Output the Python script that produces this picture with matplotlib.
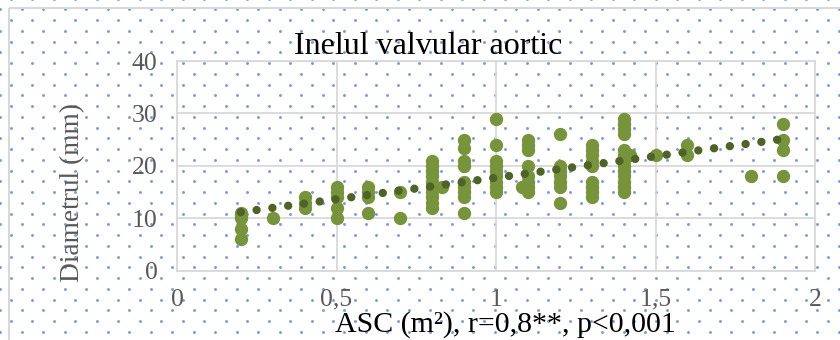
import numpy as np
import matplotlib
matplotlib.use("Agg")
import matplotlib.pyplot as plt
from matplotlib.patches import Rectangle

# ---- data ----
asc = ([0.2]*5 + [0.3] + [0.4]*3 + [0.5]*5 + [0.6]*4 + [0.7]*2 + [0.8]*10 + [0.83]
       + [0.9]*9 + [1.0]*9 + [1.08] + [1.1]*8 + [1.2]*7 + [1.3]*9 + [1.4]*13 + [1.42]
       + [1.5] + [1.6]*2 + [1.8] + [1.9]*4)
diam = ([11, 10.5, 10, 8, 6] + [10] + [14, 13, 12] + [16, 15, 14, 12, 10] + [16, 15, 14, 11]
        + [15, 10] + [21, 20, 19, 18, 17, 16, 15, 14, 13, 12] + [16]
        + [25, 23.5, 21, 20, 17, 16, 15, 14, 11]
        + [29, 24, 21, 20, 19, 18, 17, 16, 15] + [16]
        + [25, 24, 23, 20, 18, 17, 16, 15]
        + [26, 20, 19, 18, 17, 16, 13]
        + [24, 23, 22, 21, 20, 17, 16, 15, 14]
        + [29, 28, 27, 26, 23, 22, 21, 20, 19, 18, 17, 16, 15] + [22]
        + [22] + [24, 22] + [18] + [28, 25, 23, 18])
xticks = [0, 0.5, 1, 1.5, 2]
xtick_labels = ["0", "0,5", "1", "1,5", "2"]
yticks = [0, 10, 20, 30, 40]
ytick_labels = ["0", "10", "20", "30", "40"]
title = "Inelul valvular aortic"
xlabel = "ASC (m²), r=0,8**, p<0,001"
ylabel = "Diametrul (mm)"

W, H = 840, 340
plt.rcParams['font.family'] = ['Liberation Serif', 'DejaVu Serif']
fig = plt.figure(figsize=(W/100, H/100), dpi=100)
fig.patch.set_facecolor('white')

# background pattern axes (pixel coordinates)
bg = fig.add_axes([0, 0, 1, 1], zorder=0)
bg.set_xlim(0, W); bg.set_ylim(H, 0); bg.axis('off')
px, py = [], []
step = 10.75
for k in range(-2, 35):
    yy = 20 + step*k
    x0 = 32.3 if k % 2 == 0 else 21.5
    for m in range(-2, 42):
        px.append(x0 + 21.5*m); py.append(yy)
bg.scatter(px, py, s=4.5, color='#4472C4', alpha=0.7, linewidths=0)
bg.add_patch(Rectangle((9.3, 8.3), 900, 900, fill=False, edgecolor='#D9D9D9', linewidth=1.5))

# main axes
L, R, T, B = 177, 815, 61, 270.7
ax = fig.add_axes([L/W, 1-B/H, (R-L)/W, (B-T)/H], zorder=1)
ax.set_facecolor('none')
ax.set_xlim(0, 2); ax.set_ylim(0, 40)
ax.set_xticks(xticks); ax.set_xticklabels(xtick_labels)
ax.set_yticks(yticks); ax.set_yticklabels(ytick_labels)
ax.tick_params(length=0, labelsize=18.5, labelcolor='#595959')
ax.tick_params(axis='x', pad=13)
ax.tick_params(axis='y', pad=14)
ax.grid(True, color='#D9D9D9', linewidth=1.3)
ax.set_axisbelow(True)
for s in ax.spines.values():
    s.set_color('#D9D9D9'); s.set_linewidth(1.3)

xa = np.array(asc); ya = np.array(diam)
ax.scatter(xa, ya, s=92, color='#77933C', linewidths=0, zorder=3)
b, a = np.polyfit(xa, ya, 1)
xt = np.linspace(xa.min(), xa.max(), 200)
ax.plot(xt, a + b*xt, color='#4F6228', linewidth=6.0, linestyle=(0, (0.01, 1.9)),
        dash_capstyle='round', zorder=4)

fig.text(428/W, 1-54.3/H, title, ha='center', va='baseline', fontsize=23, color='black')
fig.text(505/W, 1-332/H, xlabel, ha='center', va='baseline', fontsize=21.5, color='black')
fig.text(73/W, 1-192/H, ylabel, ha='center', va='center', rotation=90, fontsize=19.7, color='#595959')

fig.savefig('out.png', dpi=100)
